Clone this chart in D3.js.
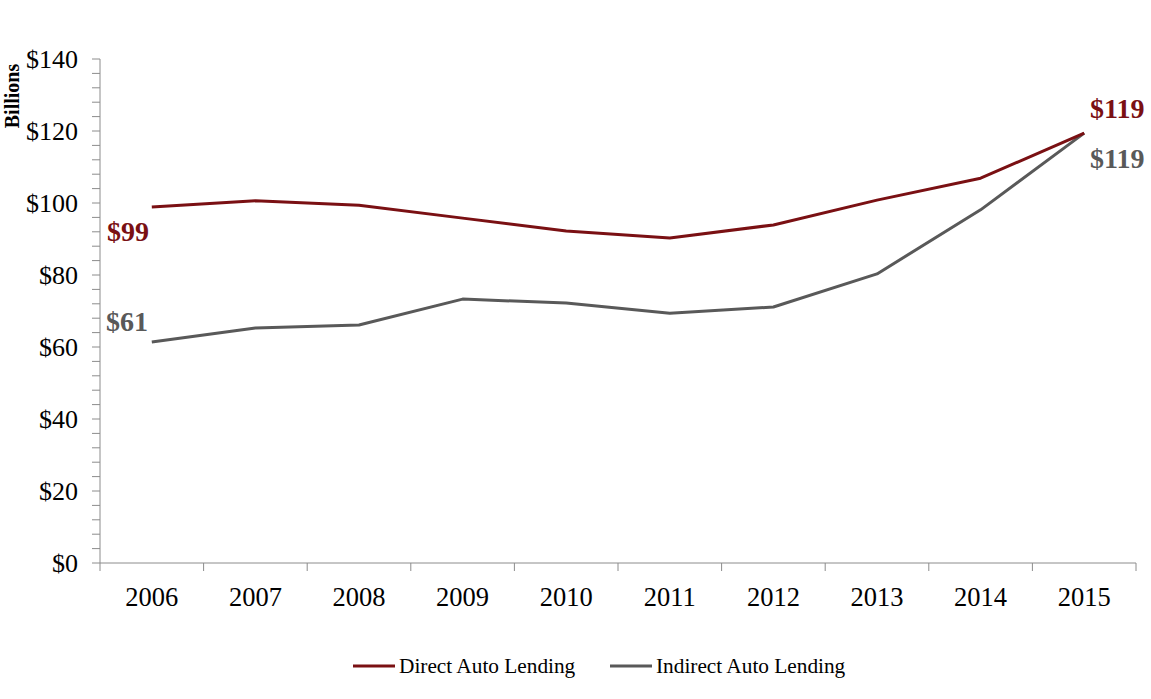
<!DOCTYPE html>
<html><head><meta charset="utf-8">
<script src="https://cdn.jsdelivr.net/npm/d3@7"></script>
<style>body{margin:0;background:#fff}svg{display:block}</style>
</head><body><svg id="c" width="1151" height="699"></svg>
<script>
const years = ["2006","2007","2008","2009","2010","2011","2012","2013","2014","2015"];
const direct = [98.9,100.6,99.4,95.8,92.2,90.3,93.9,100.8,106.9,119.4];
const indirect = [61.4,65.3,66.1,73.3,72.2,69.4,71.1,80.3,98.1,119.4];
const yTicks = [0,20,40,60,80,100,120,140];
const seriesNames = ["Direct Auto Lending","Indirect Auto Lending"];
const colors = ["#7a1013","#595959"];

const svg = d3.select("#c");
const font = "'Liberation Serif', 'DejaVu Serif', serif";
const L=100,R=1136,T=59,B=563;
const x = d3.scaleBand().domain(years).range([L,R]);
const y = d3.scaleLinear().domain([0,140]).range([B,T]);

const minor = d3.range(0,141,4);
svg.append("g").selectAll("line").data(minor).join("line")
  .attr("x1",L-8).attr("x2",L).attr("y1",d=>y(d)).attr("y2",d=>y(d))
  .attr("stroke","#8c8c8c").attr("stroke-width",1);
svg.append("line").attr("x1",L).attr("x2",L).attr("y1",T).attr("y2",B).attr("stroke","#8c8c8c");
svg.append("g").selectAll("text").data(yTicks).join("text")
  .attr("x",78).attr("y",d=>y(d)).attr("dy","0.35em").attr("text-anchor","end")
  .attr("font-family",font).attr("font-size",26).attr("fill","#000")
  .text(d=>"$"+d);

svg.append("line").attr("x1",L).attr("x2",R).attr("y1",B).attr("y2",B).attr("stroke","#8c8c8c");
const bounds = years.map(d=>x(d)).concat([R]);
svg.append("g").selectAll("line").data(bounds).join("line")
  .attr("x1",d=>d).attr("x2",d=>d).attr("y1",B).attr("y2",B+8).attr("stroke","#8c8c8c");
svg.append("g").selectAll("text").data(years).join("text")
  .attr("x",d=>x(d)+x.bandwidth()/2).attr("y",606).attr("text-anchor","middle")
  .attr("font-family",font).attr("font-size",26.5).attr("fill","#000").text(d=>d);

svg.append("text").attr("transform","translate(19,96) rotate(-90)").attr("text-anchor","middle")
  .attr("font-family",font).attr("font-size",20).attr("font-weight","bold").text("Billions");

const line = d3.line().x((d,i)=>x(years[i])+x.bandwidth()/2).y(d=>y(d));
[indirect,direct].forEach((s,k)=>{
  svg.append("path").datum(s).attr("d",line).attr("fill","none")
   .attr("stroke",colors[1-k]).attr("stroke-width",3).attr("stroke-linejoin","round");
});

function lab(txt,xx,yy,c){svg.append("text").attr("x",xx).attr("y",yy).attr("font-family",font)
  .attr("font-size",28).attr("font-weight","bold").attr("fill",c).text(txt);}
lab("$"+Math.round(direct[0]),107,241,colors[0]);
lab("$"+Math.round(indirect[0]),106,331,colors[1]);
lab("$"+Math.round(direct[9]),1090,118,colors[0]);
lab("$"+Math.round(indirect[9]),1090,168,colors[1]);

const lx=[353,610];
seriesNames.forEach((n,i)=>{
  svg.append("line").attr("x1",lx[i]).attr("x2",lx[i]+42).attr("y1",666).attr("y2",666)
    .attr("stroke",colors[i]).attr("stroke-width",3);
  svg.append("text").attr("x",lx[i]+46).attr("y",666).attr("dy","0.35em")
    .attr("font-family",font).attr("font-size",21.3).text(n);
});
</script></body></html>
